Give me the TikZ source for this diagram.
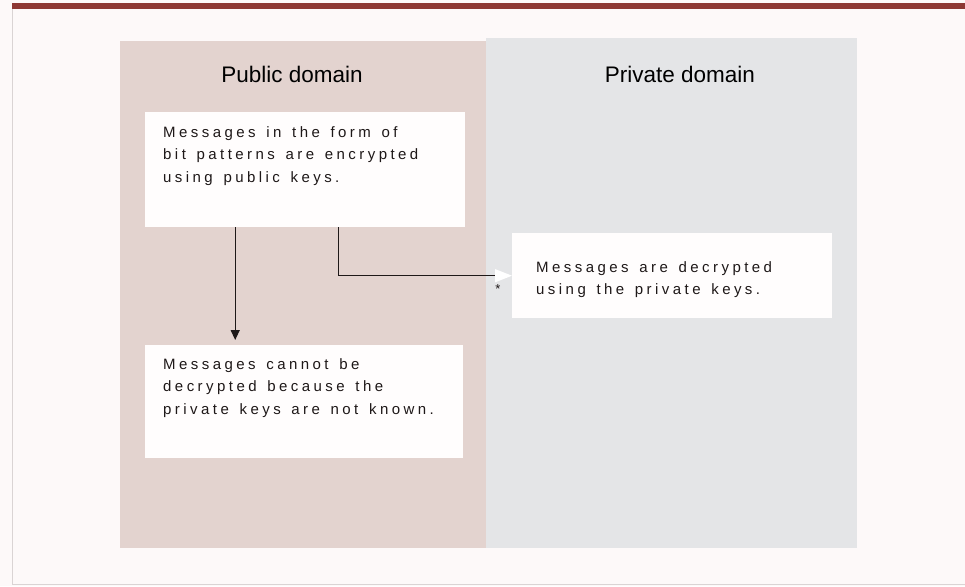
\documentclass[tikz,border=0pt]{standalone}
\usepackage{fontspec}
\setmainfont{Liberation Sans}
\newfontfamily\trackedfont[LetterSpace=23, WordSpace=1.4]{Liberation Sans}
\usetikzlibrary{arrows.meta}
\definecolor{pagetint}{RGB}{253,249,249}
\definecolor{headerred}{RGB}{142,56,52}
\definecolor{frameline}{RGB}{218,212,212}
\definecolor{publicpink}{RGB}{227,211,207}
\definecolor{privategrey}{RGB}{228,229,231}
\definecolor{boxwhite}{RGB}{255,253,253}
\definecolor{inkdark}{RGB}{30,24,24}

\tikzset{
  msgbox/.style={fill=boxwhite, draw=none, anchor=north west, inner sep=0pt},
  msgtext/.style={anchor=north west, inner sep=0pt, align=left, text=inkdark,
    font=\trackedfont\fontsize{15}{22.8}\selectfont},
  domaintitle/.style={anchor=base, inner sep=0pt, text=black,
    font=\fontsize{22.5}{27}\selectfont},
  flowline/.style={inkdark, line width=1.3pt},
}

\begin{document}
\begin{tikzpicture}[x=1pt, y=-1pt]
  \useasboundingbox (0,0) rectangle (965,586);

  % ---------- Page ----------
  \fill[pagetint] (0,0) rectangle (965,586);
  \fill[headerred] (12,3) rectangle (965,9);
  \draw[frameline, thin] (12,9) -- (12,584) -- (965,584);

  % ---------- Domains ----------
  \fill[publicpink] (120,41) rectangle (486,548);
  \fill[privategrey] (486,38) rectangle (857,548);
  \node[domaintitle] (pubtitle) at (292,82) {Public domain};
  \node[domaintitle] (privtitle) at (680,82) {Private domain};

  % ---------- Message boxes ----------
  \node[msgbox, minimum width=320pt, minimum height=115pt] (encrypt) at (145,112) {};
  \node[msgtext] (encrypttext) at (163,126)
    {Messages in the form of\\bit patterns are encrypted\\using public keys.};

  \node[msgbox, minimum width=318pt, minimum height=113pt] (blocked) at (145,345) {};
  \node[msgtext] (blockedtext) at (163,358)
    {Messages cannot be\\decrypted because the\\private keys are not known.};

  \node[msgbox, minimum width=320pt, minimum height=85pt] (decrypt) at (512,233) {};
  \node[msgtext] (decrypttext) at (536,261)
    {Messages are decrypted\\using the private keys.};

  % ---------- Connectors ----------
  \draw[flowline, -{Triangle[length=10pt, width=9pt]}, shorten >=5pt]
    ([xshift=-70pt]encrypt.south) coordinate (dropstart) -- (dropstart |- blocked.north);
  \draw[flowline, -{Triangle[color=white, length=17pt, width=13pt]}]
    ([xshift=33pt]encrypt.south) |- (decrypt.west);
  \node[inner sep=0pt, text=inkdark, font=\fontsize{13}{13}\selectfont] (footstar) at (498,289) {*};

\end{tikzpicture}
\end{document}
